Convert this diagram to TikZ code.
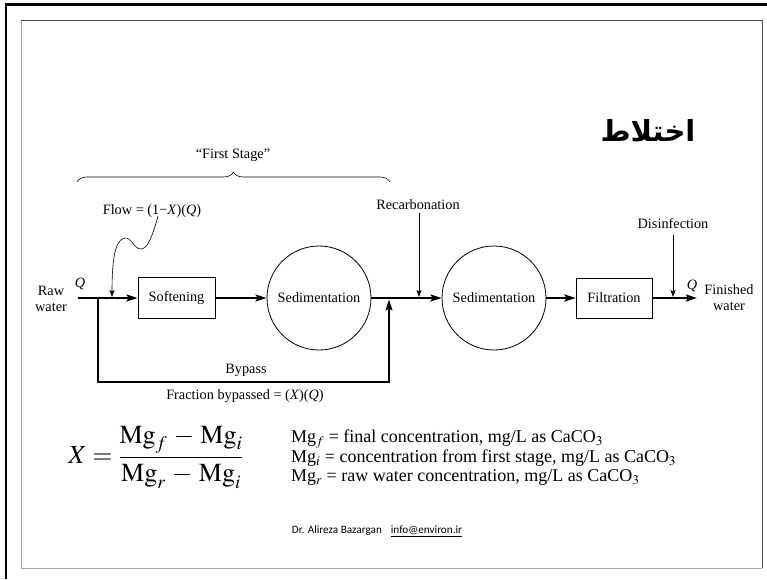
\documentclass[tikz,border=0pt]{standalone}
\usepackage{mathptmx}
\usepackage{amsmath}
\usepackage{fontspec}
\setmainfont{Liberation Serif}
\newfontfamily\arabicfont[Script=Arabic]{DejaVu Sans}
\newfontfamily\calfont{Carlito}
\TeXXeTstate=1
\usetikzlibrary{arrows.meta,decorations.pathreplacing}
\begin{document}
\begin{tikzpicture}[x=1pt,y=-1pt,
  lbl/.style={font=\fontsize{14.3}{16}\selectfont, inner sep=0pt},
  procbox/.style={draw, line width=0.8pt, minimum width=77pt, minimum height=41pt, inner sep=0pt, font=\fontsize{14.3}{16}\selectfont},
  sedcirc/.style={draw, circle, line width=0.8pt, minimum size=104pt, inner sep=0pt, font=\fontsize{14.3}{16}\selectfont},
  mainflow/.style={line width=2.6pt, -{Stealth[length=11pt,width=7pt,inset=2pt]}},
  bypassflow/.style={line width=1.4pt, -{Stealth[length=11pt,width=7pt,inset=2pt]}},
  thinflow/.style={line width=0.6pt, -{Stealth[length=7pt,width=5pt,inset=1.5pt]}}
]
\useasboundingbox (0,0) rectangle (767,579);
\fill[white] (0,0) rectangle (767,579);
% frames
\draw[line width=2.5pt] (6,579) -- (6,4.5) -- (767,4.5);
\draw[black!35, line width=1pt] (21,20) -- (21,568) -- (762,568);
\draw[black!70, line width=1pt] (21,20) -- (762,20) -- (762,568);

% title
\node[inner sep=0pt] (title) at (648,131) {\fontsize{29}{32}\selectfont\arabicfont\bfseries\beginR اختلاط\endR};

% process nodes
\node[procbox] (soft) at (176.5,298) {Softening};
\node[sedcirc] (sed1) at (319,298) {Sedimentation};
\node[sedcirc] (sed2) at (494,298) {Sedimentation};
\node[procbox, minimum width=76pt, minimum height=40pt] (filt) at (614,298) {Filtration};

% coordinates
\coordinate (in) at (78,298);
\coordinate (split) at (98,298);
\coordinate (bl) at (98,382);
\coordinate (br) at (389,382);
\coordinate (join) at (389,299.5);
\coordinate (out) at (697,298);
\coordinate (rctop) at (419,213);
\coordinate (rcin) at (419,297);
\coordinate (dtop) at (673,235);
\coordinate (din) at (673,297);
\coordinate (flowtop) at (158,216);
\coordinate (flowin) at (112,297);

% main flow
\draw[mainflow] (in) -- (soft.west);
\draw[mainflow] (soft.east) -- (sed1.west);
\draw[mainflow] (sed1.east) -- (sed2.west);
\draw[mainflow] (sed2.east) -- (filt.west);
\draw[mainflow] (filt.east) -- (out);

% bypass
\draw[bypassflow] (split) -- (bl) -- (br) -- (join);

% chemical additions
\draw[thinflow] (rctop) -- (rcin);
\draw[thinflow] (dtop) -- (din);
\draw[thinflow] (flowtop) .. controls (152,238) and (147,249) .. (141,249)
  .. controls (134,249) and (131,237) .. (125,238)
  .. controls (114,239) and (112,265) .. (flowin);

% brace
\draw[line width=0.6pt, decorate, decoration={brace, amplitude=10pt, aspect=0.5}] (77,182) -- (390,182);

% labels
\node[lbl] (firststage) at (233,155) {“First Stage”};
\node[lbl] (flowlbl) at (152,211) {Flow = (1−\textit{X})(\textit{Q})};
\node[lbl] (recarb) at (418,205) {Recarbonation};
\node[lbl] (disinf) at (673,224) {Disinfection};
\node[lbl, align=center] (raw) at (51,299) {Raw\\water};
\node[lbl] (qin) at (80,284) {\textit{Q}};
\node[lbl] (qout) at (692,286) {\textit{Q}};
\node[lbl, align=center] (fin) at (729,298) {Finished\\water};
\node[lbl] (bypasslbl) at (246,370) {Bypass};
\node[lbl] (fraclbl) at (245,396) {Fraction bypassed = (\textit{X})(\textit{Q})};

% formula
\node[inner sep=0pt, font=\fontsize{26}{30}\selectfont] (formula) at (156,457)
  {$X = \dfrac{\mathrm{Mg}_f \,-\, \mathrm{Mg}_i}{\mathrm{Mg}_r \,-\, \mathrm{Mg}_i}$};
\node[inner sep=0pt, anchor=west, align=left, font=\fontsize{18}{19.5}\selectfont] (defs) at (291,458)
  {Mg$_f$ = final concentration, mg/L as CaCO$_3$\\
   Mg$_i$ = concentration from first stage, mg/L as CaCO$_3$\\
   Mg$_r$ = raw water concentration, mg/L as CaCO$_3$};

% footer
\node[inner sep=0pt] (footer) at (377,531) {\calfont\fontsize{11.2}{13}\selectfont Dr. Alireza Bazargan\hspace{9pt}\underline{info@environ.ir}};
\end{tikzpicture}
\end{document}
